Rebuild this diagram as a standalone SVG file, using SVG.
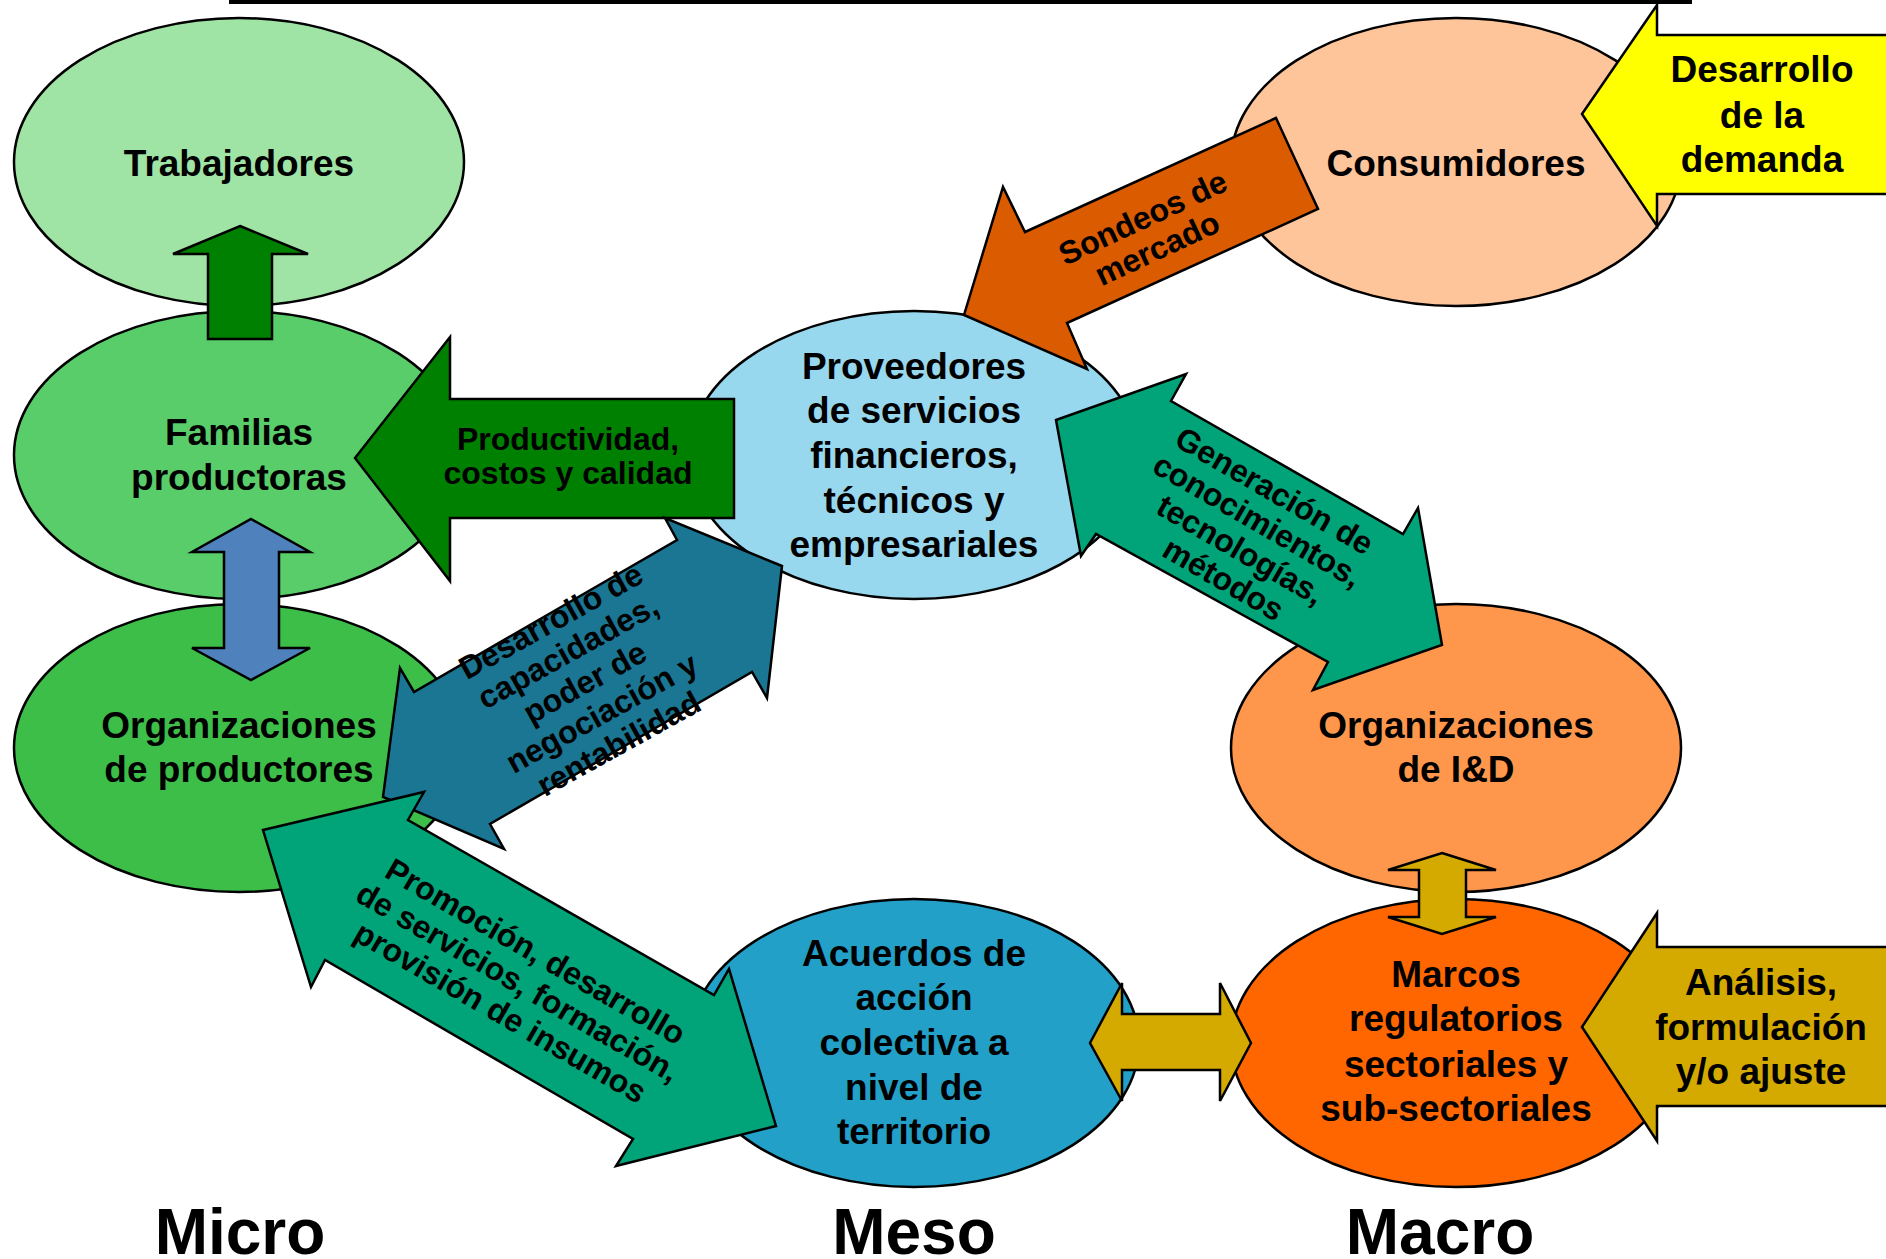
<svg xmlns="http://www.w3.org/2000/svg" width="1886" height="1259" viewBox="0 0 1886 1259">
<style>
.n{stroke:#000;stroke-width:2.5}
.a{stroke:#000;stroke-width:2.5;stroke-linejoin:miter}
text{font-family:"Liberation Sans",Arial,sans-serif;font-weight:bold;fill:#000;text-anchor:middle}
.t{font-size:37px}
.s{font-size:32px}
.b{font-size:64px}
</style>
<rect x="229" y="0" width="1463" height="4" fill="#000"/>
<g id="trabajadores"><ellipse class="n" cx="239" cy="162" rx="225" ry="144" fill="#9FE3A5"/><text class="t" x="239" y="176">Trabajadores</text></g>
<g id="familias"><ellipse class="n" cx="239" cy="455" rx="225" ry="144" fill="#59CD69"/><text class="t" x="239" y="445">Familias</text><text class="t" x="239" y="490">productoras</text></g>
<g id="orgprod"><ellipse class="n" cx="239" cy="748" rx="225" ry="144" fill="#3CBE48"/><text class="t" x="239" y="738">Organizaciones</text><text class="t" x="239" y="782">de productores</text></g>
<g id="proveedores"><ellipse class="n" cx="914" cy="455" rx="225" ry="144" fill="#98D8EE"/></g>
<g id="consumidores"><ellipse class="n" cx="1456" cy="162" rx="225" ry="144" fill="#FEC49A"/><text class="t" x="1456" y="176">Consumidores</text></g>
<g id="orgid"><ellipse class="n" cx="1456" cy="748" rx="225" ry="144" fill="#FE974C"/><text class="t" x="1456" y="738">Organizaciones</text><text class="t" x="1456" y="782">de I&amp;D</text></g>
<g id="marcos"><ellipse class="n" cx="1456" cy="1043" rx="225" ry="144" fill="#FF6600"/><text class="t" x="1456" y="987">Marcos</text><text class="t" x="1456" y="1031">regulatorios</text><text class="t" x="1456" y="1077">sectoriales y</text><text class="t" x="1456" y="1121">sub-sectoriales</text></g>
<g id="acuerdos"><ellipse class="n" cx="914" cy="1043" rx="225" ry="144" fill="#22A0C8"/></g>
<g id="connectors">
<polygon class="a" fill="#008000" points="240,226 308,254 272,254 272,339 208,339 208,254 173,254"/>
<polygon class="a" fill="#4F81BD" points="251,519 310,552 279,552 279,648 310,648 251,680 192,648 224,648 224,552 192,552"/>
<polygon class="a" fill="#008000" points="355,458 450,337 450,399 734,399 734,518 450,518 450,581"/>
<polygon class="a" fill="#1A7693" points="782,566 665,518 677,540 414,692 400,668 383,797 504,849 490,824 752,672 767,698"/>
<polygon class="a" fill="#00A478" points="263,830 424,792 408,820 714,995 729,969 776,1126 616,1166 633,1139 325,960 311,987"/>
<polygon class="a" fill="#DA5B00" points="1276,118 1318,209 1067,323 1087,369 964,315 1003,187 1025,232"/>
<polygon class="a" fill="#00A478" points="1056,420 1186,374 1171,401 1403,534 1418,508 1442,645 1313,690 1328,662 1096,534 1081,556"/>
<polygon class="a" fill="#FFFF00" points="1582,114 1657,5 1657,35 1890,35 1890,194 1657,194 1657,226"/>
<polygon class="a" fill="#D4AA00" points="1582,1027 1657,913 1657,947 1890,947 1890,1106 1657,1106 1657,1141"/>
<polygon class="a" fill="#D4AA00" points="1090,1043 1122,983 1122,1014 1220,1014 1220,983 1251,1043 1220,1101 1220,1070 1122,1070 1122,1101"/>
<polygon class="a" fill="#D4AA00" points="1442,853 1496,870 1466,870 1466,917 1496,917 1442,934 1388,917 1419,917 1419,870 1388,870"/>
</g>
<g id="proveedores-text"><text class="t" x="914" y="379">Proveedores</text><text class="t" x="914" y="423">de servicios</text><text class="t" x="914" y="468">financieros,</text><text class="t" x="914" y="513">técnicos y</text><text class="t" x="914" y="557">empresariales</text></g>
<g id="acuerdos-text"><text class="t" x="914" y="966">Acuerdos de</text><text class="t" x="914" y="1010">acción</text><text class="t" x="914" y="1055">colectiva a</text><text class="t" x="914" y="1100">nivel de</text><text class="t" x="914" y="1144">territorio</text></g>
<g id="labels">
<text class="s" x="568" y="450">Productividad,</text><text class="s" x="568" y="484">costos y calidad</text>
<g transform="translate(590,692) rotate(-29)"><text class="s" x="0" y="-70">Desarrollo de</text><text class="s" x="0" y="-35">capacidades,</text><text class="s" x="0" y="0">poder de</text><text class="s" x="0" y="35">negociación y</text><text class="s" x="0" y="70">rentabilidad</text></g>
<g transform="translate(518,982) rotate(30)"><text class="s" x="0" y="-24">Promoción, desarrollo</text><text class="s" x="0" y="11">de servicios, formación,</text><text class="s" x="0" y="46">provisión de insumos</text></g>
<g transform="translate(1150,233) rotate(-25)"><text class="s" x="0" y="-6">Sondeos de</text><text class="s" x="0" y="28">mercado</text></g>
<g transform="translate(1249,535) rotate(30)"><text class="s" x="0" y="-40">Generación de</text><text class="s" x="0" y="-6">conocimientos,</text><text class="s" x="0" y="28">tecnologías,</text><text class="s" x="0" y="62">métodos</text></g>
<text class="t" x="1762" y="82">Desarrollo</text><text class="t" x="1762" y="128">de la</text><text class="t" x="1762" y="172">demanda</text>
<text class="t" x="1761" y="995">Análisis,</text><text class="t" x="1761" y="1040">formulación</text><text class="t" x="1761" y="1084">y/o ajuste</text>
<text class="b" x="240" y="1254">Micro</text><text class="b" x="914" y="1254">Meso</text><text class="b" x="1440" y="1254">Macro</text>
</g>
</svg>
